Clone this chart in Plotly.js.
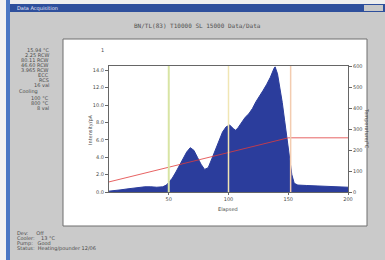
<!DOCTYPE html>
<html><head><meta charset="utf-8">
<script src="https://cdn.plot.ly/plotly-3.0.1.min.js"></script>
<style>html,body{margin:0;padding:0;background:#cacaca;}#c{width:385px;height:260px;}</style>
</head><body><div id="c"></div>
<script>
// ---- data ----
const elapsed = [0,5,10,15,20,25,30,35,40,45,48,50,53,56,59,62,65,68,71,74,77,80,83,86,89,92,95,98,101,104,106,108,111,114,117,120,123,126,129,132,135,138,139,141,143,145,147,149,151,153,155,158,165,175,185,195,200];
const intensity = [0.1,0.15,0.25,0.35,0.45,0.55,0.6,0.6,0.55,0.6,0.8,1.1,1.6,2.3,3.1,3.9,4.6,5.1,4.8,4.0,3.2,2.6,2.8,3.8,4.9,6.0,6.9,7.5,7.7,7.3,7.1,7.4,8.0,8.6,9.0,9.6,10.4,11.0,11.7,12.4,13.2,14.2,14.4,13.6,12.0,10.3,8.2,6.0,3.8,2.0,1.0,0.8,0.75,0.7,0.65,0.6,0.55];
const tempX = [0,47,80,121,150,200];
const tempC = [48,114,160,217,258,258];
const markerX = [50,100,152];
const markerColors = ['#d8e4a4','#f0e6b4','#f3ccb0'];
const xTicks = [50,100,150,200];
const yTicks = [0,2,4,6,8,10,12,14];
const y2Ticks = [0,100,200,300,400,500,600];
const titleText = 'BN/TL(83) T10000 SL 15000 Data/Data';
const leftInfo = ['15.94 °C','2.25 RCW','80.11 RCW','46.60 RCW','3.965 RCW','ECC','RCS','16 val'];
const coolInfo = ['100 °C','800 °C','8 val'];
const bottomInfo = ['Dev:     Off','Cooler:    13 °C','Pump:   Good','Status:  Heating/pounder 12/06'];

// ---- pixel helpers (plot area 109..348 x 66..192) ----
const L=109,R=348,T=66,B=192;
const px = v => (v-L)/(R-L);
const py = v => (B-v)/(B-T);

const shapes = [];
function rect(x0,y0,x1,y1,fill,line,lw,layer){
  shapes.push({type:'rect',xref:'paper',yref:'paper',x0:px(x0),x1:px(x1),y0:py(y0),y1:py(y1),
    fillcolor:fill,line:{color:line||fill,width:lw||0},layer:layer||'below'});
}
rect(0,0,6,260,'#f2f2f2');
rect(6,0,10,260,'#4b78c4');
rect(10,0,385,4,'#eeeeee');
rect(10,4,385,12,'#2e4f9c');
rect(364,5,383,11,'#c8c8c8');
rect(63,39,367,226,'#ffffff','#6e6e6e',1);

markerX.forEach((m,i)=>shapes.push({type:'line',xref:'x',yref:'paper',x0:m,x1:m,y0:0,y1:1,
  line:{color:markerColors[i],width:i===0?2:1.5},layer:'above'}));

const ann = [];
function txt(x,y,s,opts){
  ann.push(Object.assign({xref:'paper',yref:'paper',x:px(x),y:py(y),text:s,showarrow:false,
    font:{family:'DejaVu Sans',size:5,color:'#4a4a4a'},xanchor:'left',yanchor:'middle'},opts||{}));
}
txt(15,8,'Data Acquisition',{font:{family:'DejaVu Sans',size:5,color:'#e8e8f8'}});
txt(197,25,titleText,{xanchor:'center',font:{family:'DejaVu Sans Mono',size:6,color:'#505050'}});
leftInfo.forEach((s,i)=>txt(51,50+i*5,s,{xanchor:'right'}));
txt(17,91,'Cooling');
coolInfo.forEach((s,i)=>txt(51,98+i*5,s,{xanchor:'right'}));
bottomInfo.forEach((s,i)=>txt(15,233+i*5,s));
txt(102,50,'1',{xanchor:'center'});
txt(228,209,'Elapsed',{xanchor:'center'});
txt(90,130,'Intensity/pA',{xanchor:'center',textangle:-90});
txt(367,128,'Temperature/°C',{xanchor:'center',textangle:90});

const traces = [
  {x:elapsed,y:intensity,type:'scatter',mode:'lines',fill:'tozeroy',fillcolor:'#2b3d9c',
   line:{color:'#2b3d9c',width:1},hoverinfo:'skip'},
  {x:tempX,y:tempC,yaxis:'y2',type:'scatter',mode:'lines',line:{color:'rgba(225,60,60,0.8)',width:1},hoverinfo:'skip'}
];
const tickFont = {family:'DejaVu Sans',size:5,color:'#4a4a4a'};
const layout = {
  width:385,height:260,margin:{l:L,r:385-R,t:T,b:260-B},
  paper_bgcolor:'#cacaca',plot_bgcolor:'#ffffff',showlegend:false,
  xaxis:{range:[0,200],tickvals:xTicks,ticks:'outside',ticklen:2,tickcolor:'#666',showgrid:false,zeroline:false,
    showline:true,linecolor:'#666',linewidth:1,mirror:true,tickfont:tickFont},
  yaxis:{range:[0,14.5],tickvals:yTicks,tickformat:'.1f',ticks:'outside',ticklen:3,tickcolor:'#666',showgrid:false,zeroline:false,
    showline:true,linecolor:'#666',linewidth:1,tickfont:tickFont},
  yaxis2:{range:[0,600],tickvals:y2Ticks,overlaying:'y',side:'right',ticks:'outside',ticklen:3,tickcolor:'#666',showgrid:false,zeroline:false,
    showline:true,linecolor:'#666',linewidth:1,tickfont:tickFont},
  shapes:shapes,annotations:ann
};
Plotly.newPlot('c',traces,layout,{staticPlot:true,displayModeBar:false});
</script></body></html>
